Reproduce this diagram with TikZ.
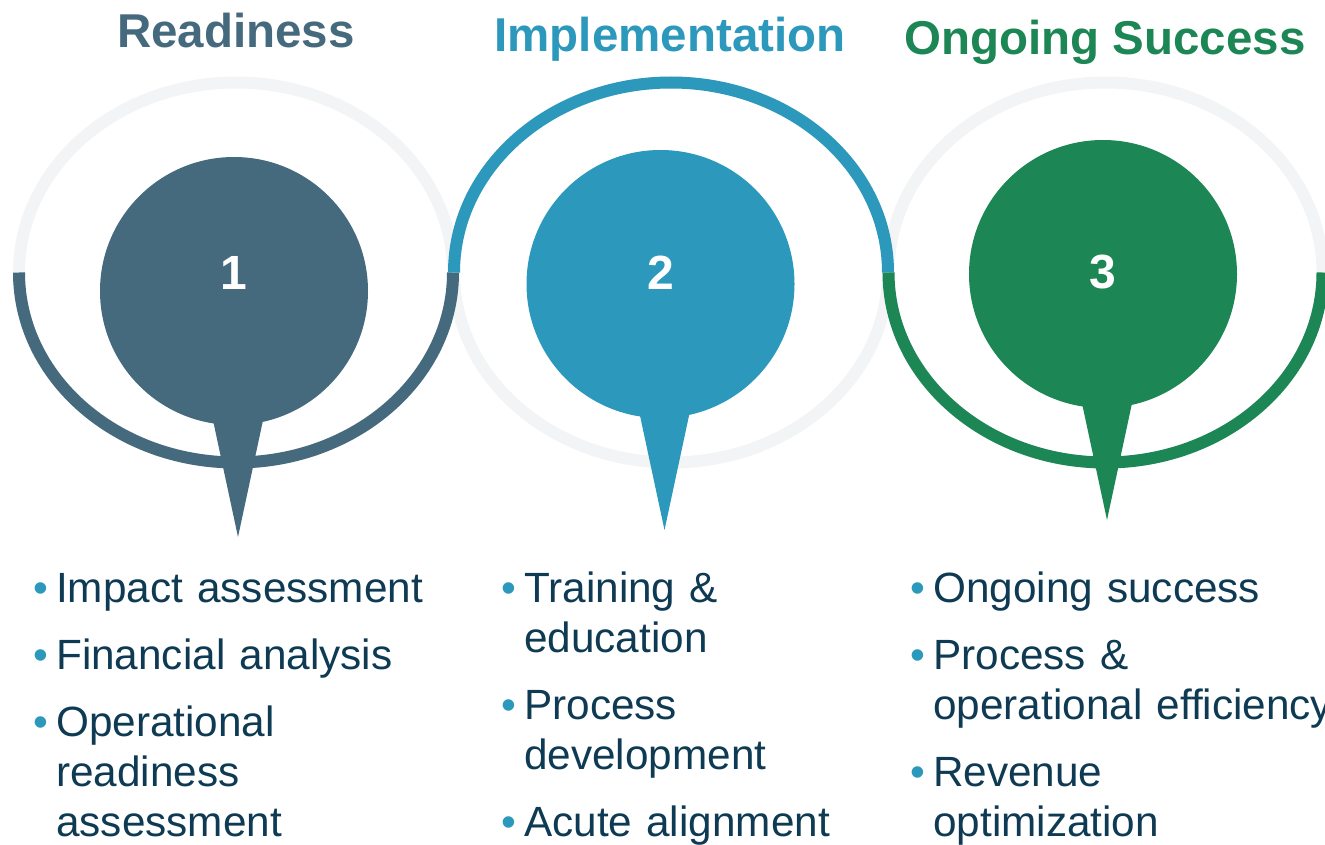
\documentclass[tikz,border=0pt]{standalone}
\usepackage{fontspec}
\setmainfont{Liberation Sans}
\usepackage{xcolor}
\usetikzlibrary{calc}

\definecolor{colReady}{HTML}{466A7D}
\definecolor{colImpl}{HTML}{2B98BC}
\definecolor{colSucc}{HTML}{1C8655}
\definecolor{colRing}{HTML}{F2F4F6}
\definecolor{colText}{HTML}{0E3A53}

% hanging bullet for the lists under the pins
\newcommand{\itm}{\noindent\llap{\textcolor{colImpl}{\textbullet}\hspace{8pt}}}

\begin{document}
\begin{tikzpicture}[x=1pt, y=1pt,
  ring/.style={line width=12pt, draw=colRing},
  halfring/.style={line width=12pt},
  pinhead/.style={circle, minimum size=268pt, inner sep=0pt},
  num/.style={font=\fontsize{48}{48}\selectfont\bfseries, text=white, inner sep=0pt},
  title/.style={font=\fontsize{47.5}{50}\selectfont\bfseries, inner sep=0pt, anchor=base},
  list/.style={font=\fontsize{42.3}{50}\selectfont, text=colText, text width=430pt,
               align=left, inner sep=0pt, anchor=base west},
]
\useasboundingbox (0,0) rectangle (1325,-845);
\clip (0,0) rectangle (1325,-845);

% grey rings behind everything
\foreach \cx in {236, 671, 1105.5}{
  \draw[ring] (\cx,-272.5) ellipse [x radius=217, y radius=190];
}

% coloured halves
\draw[halfring, colReady] (19,-272.5)   arc[start angle=180, end angle=360, x radius=217, y radius=190];
\draw[halfring, colImpl]  (454,-272.5)  arc[start angle=180, end angle=0,   x radius=217, y radius=190];
\draw[halfring, colSucc]  (888.5,-272.5) arc[start angle=180, end angle=360, x radius=217, y radius=190];

% pins with their numbers
\foreach \i/\cx/\cy/\c in {1/234/-291/colReady, 2/660.5/-284/colImpl, 3/1103/-274/colSucc}{
  \node[pinhead, fill=\c] (p\i) at (\cx,\cy) {};
  \fill[\c] ($(p\i)+(-21.5,-127)$) -- ($(p\i)+(4,-246)$) -- ($(p\i)+(29.5,-127)$) -- cycle;
  \node[num] (n\i) at (\cx,-272.5) {\i};
}

\node[title, text=colReady] (t1) at (236,-48)  {Readiness};
\node[title, text=colImpl]  (t2) at (670,-52)  {Implementation};
\node[title, text=colSucc]  (t3) at (1105,-55) {Ongoing Success};

\node[list] (l1) at (56,-602)
  {\itm Impact assessment\\[17pt]
   \itm Financial analysis\\[17pt]
   \itm Operational\\readiness\\assessment};
\node[list] (l2) at (524,-602)
  {\itm Training \&\\education\\[17pt]
   \itm Process\\development\\[17pt]
   \itm Acute alignment};
\node[list] (l3) at (933,-602)
  {\itm Ongoing success\\[17pt]
   \itm Process \&\\operational efficiency\\[17pt]
   \itm Revenue\\optimization};

\end{tikzpicture}
\end{document}
